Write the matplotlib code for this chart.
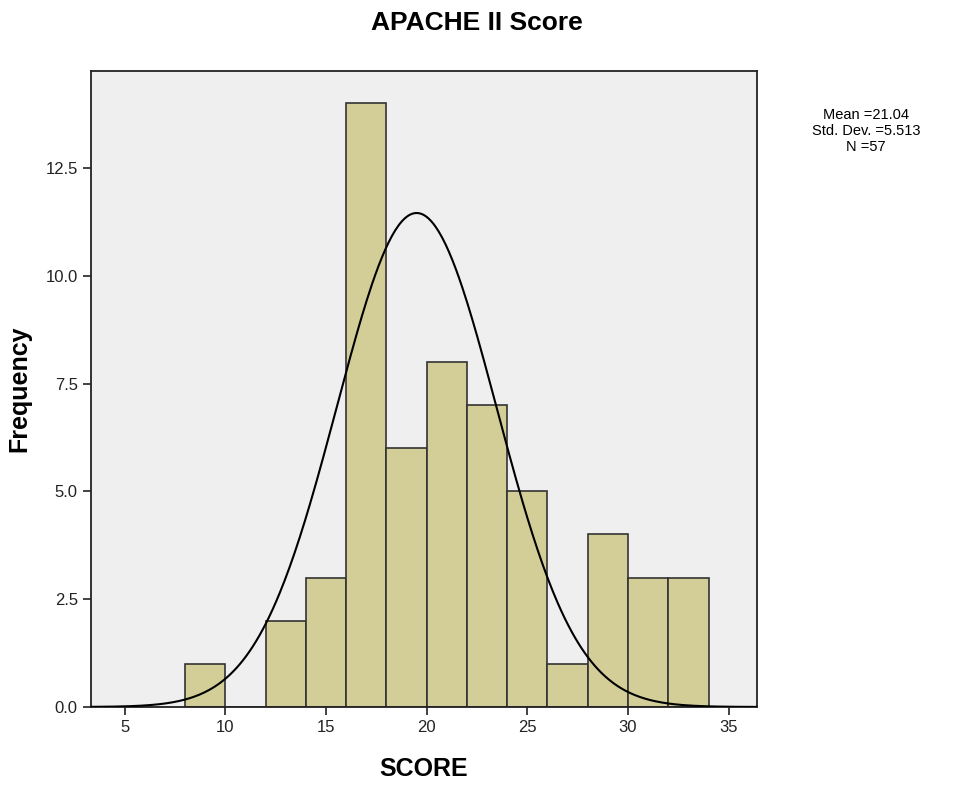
import numpy as np
import matplotlib.pyplot as plt

plt.rcParams['font.family'] = ['Liberation Sans', 'DejaVu Sans']

# histogram data (bin edges width 2)
bin_edges = [8, 10, 12, 14, 16, 18, 20, 22, 24, 26, 28, 30, 32, 34]
counts = [1, 0, 2, 3, 14, 6, 8, 7, 5, 1, 4, 3, 3]

# fitted normal curve
curve_mu = 19.5
curve_sigma = 3.97
n_total = 57
bin_width = 2

stats_text = "Mean =21.04\nStd. Dev. =5.513\nN =57"
x_ticks = [5, 10, 15, 20, 25, 30, 35]
y_ticks = [0.0, 2.5, 5.0, 7.5, 10.0, 12.5]


def main():
    fig = plt.figure(figsize=(9.54, 7.85), dpi=100)
    ax = fig.add_axes([0.0954, 0.0994, 0.698, 0.8102])
    ax.set_facecolor('#EFEFEF')

    edges = np.array(bin_edges, dtype=float)
    ax.bar(edges[:-1], counts, width=np.diff(edges), align='edge',
           color='#D3CE98', edgecolor='#333333', linewidth=1.2, zorder=2)

    xs = np.linspace(3.3, 36.5, 400)
    ys = n_total * bin_width / (curve_sigma * np.sqrt(2 * np.pi)) * \
        np.exp(-0.5 * ((xs - curve_mu) / curve_sigma) ** 2)
    ax.plot(xs, ys, color='black', linewidth=1.5, zorder=3)

    ax.set_xlim(3.33, 36.4)
    ax.set_ylim(0, 14.75)
    ax.set_xticks(x_ticks)
    ax.set_yticks(y_ticks)
    ax.set_yticklabels([f'{v:.1f}' for v in y_ticks])
    ax.tick_params(labelsize=12, length=6, width=1.2, color='#222222',
                   labelcolor='#222222')
    for sp in ax.spines.values():
        sp.set_color('#222222')
        sp.set_linewidth(1.3)

    ax.set_xlabel('SCORE', fontsize=18, fontweight='bold', labelpad=16)
    ax.set_ylabel('Frequency', fontsize=18, fontweight='bold', labelpad=10)
    fig.text(0.4995, 0.971, 'APACHE II Score', ha='center', va='center',
             fontsize=19, fontweight='bold')
    fig.text(0.9075, 0.833, stats_text, ha='center', va='center',
             fontsize=10.5, linespacing=1.2)

    fig.savefig('out.png', dpi=100)


if __name__ == '__main__':
    main()
